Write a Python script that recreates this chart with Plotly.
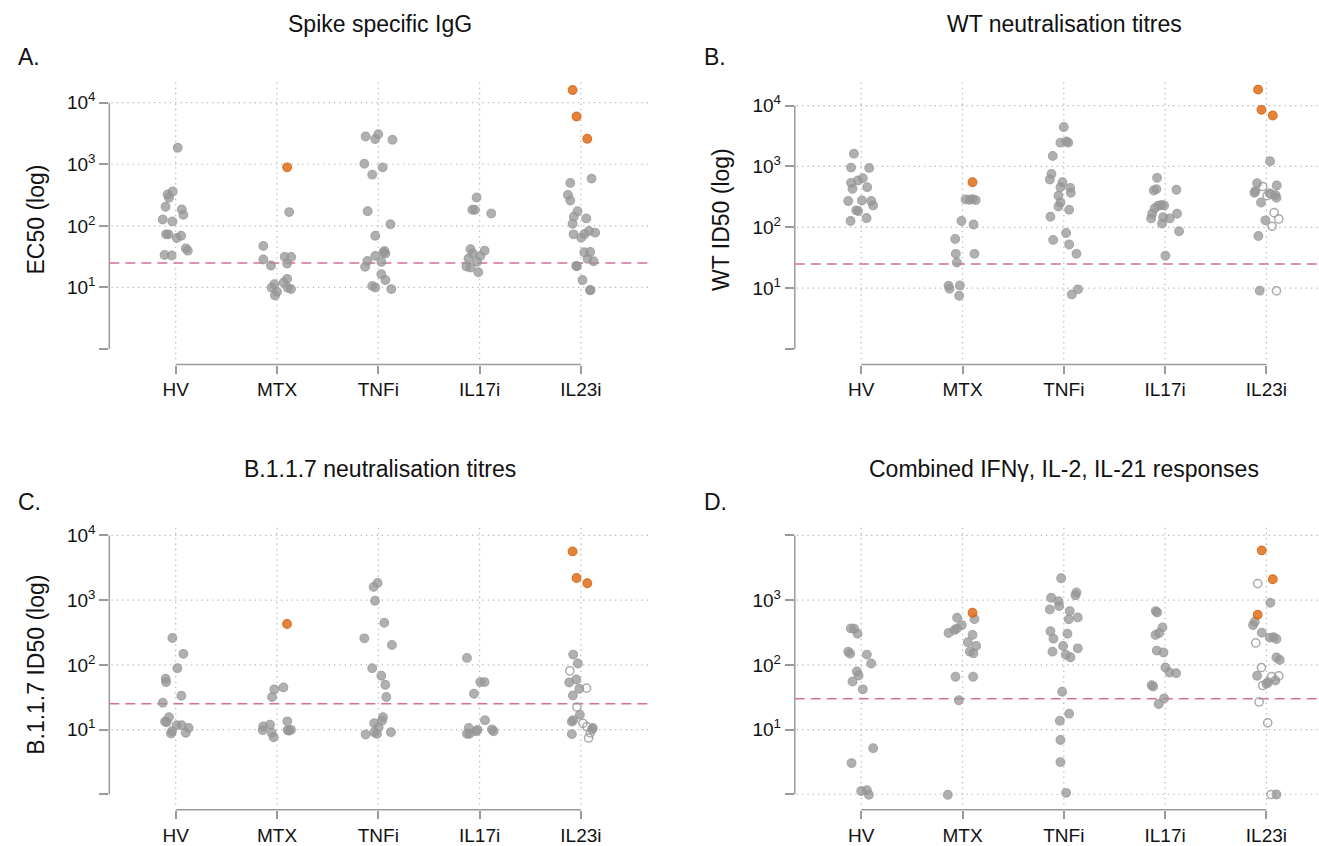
import plotly.graph_objects as go

categories = ["HV", "MTX", "TNFi", "IL17i", "IL23i"]
titles = ["Spike specific IgG", "WT neutralisation titres",
          "B.1.1.7 neutralisation titres", "Combined IFN\u03b3, IL-2, IL-21 responses"]
letters = ["A.", "B.", "C.", "D."]
ytitles = ["EC50 (log)", "WT ID50 (log)", "B.1.1.7 ID50 (log)", ""]
thresholds = [25, 25, 25, 30]

# ---------------- Panel A: Spike specific IgG (EC50) ----------------
a_hv = [1853, 360, 322, 285, 204, 185, 151, 127, 118, 72.8, 72.8, 63.5, 69, 43, 39.6, 33.7, 33]
a_hv_dx = [0.02, -0.03, -0.08, -0.066, -0.1, 0.06, 0.076, -0.128, -0.033, -0.095, -0.072, 0.01, 0.053, 0.10, 0.12, -0.11, -0.04]
a_mtx = [167, 47.2, 28.4, 22.7, 31.4, 31.2, 24.4, 13.8, 12, 11.3, 9.9, 8.5, 7.4, 9.9, 9.4]
a_mtx_dx = [0.12, -0.135, -0.135, -0.06, 0.076, 0.14, 0.1, 0.1, 0.066, -0.026, -0.053, 0, -0.02, 0.105, 0.138]
a_tnf = [2825, 2560, 3077, 2494, 1021, 891, 678, 173, 106, 69, 39, 36.8, 35.5, 32.5, 27, 26, 21.6, 16.4, 13.2, 10.6, 10, 9.4]
a_tnf_dx = [-0.125, -0.03, 0.0, 0.14, -0.138, 0.043, -0.06, -0.105, 0.12, -0.03, 0.06, 0.05, 0.07, -0.03, -0.108, 0.03, -0.13, 0.03, 0.07, -0.06, -0.03, 0.128]
a_il17 = [288, 182, 182, 159, 41.7, 39.6, 35.5, 32.5, 29.5, 26, 21.9, 21, 17.7]
a_il17_dx = [-0.03, -0.072, -0.046, 0.115, -0.09, 0.05, -0.066, 0.007, -0.11, -0.026, -0.13, -0.09, -0.013]
a_il23 = [585, 498, 318, 258, 173, 132, 141, 108, 72.8, 82.4, 77.5, 73.6, 64.3, 37.2, 37.6, 29.1, 26.7, 22.4, 22.0, 13.2, 9.06, 9.0]
a_il23_dx = [0.105, -0.105, -0.128, -0.105, -0.033, 0.053, -0.07, -0.082, -0.072, 0.079, 0.141, 0.036, 0.003, 0.033, 0.092, 0.066, 0.125, -0.046, -0.04, 0.016, 0.095, 0.09]
a_orange_cat = [2, 5, 5, 5]
a_orange_val = [891, 16000, 5940, 2588]
a_orange_dx = [0.1, -0.082, -0.043, 0.063]
a_open_cat = []
a_open_val = []
a_open_dx = []

# ---------------- Panel B: WT neutralisation (ID50) ----------------
b_hv = [1622, 957, 946, 641, 586, 537, 456, 428, 270, 276, 270, 229, 190, 185, 142, 127]
b_hv_dx = [-0.072, -0.1, 0.079, 0.016, -0.033, -0.1, 0.059, -0.086, -0.128, 0.007, 0.099, 0.118, -0.049, -0.03, 0.053, -0.105]
b_mtx = [287, 283, 290, 280, 127, 111, 64.4, 36.6, 36.6, 26.4, 11, 9.8, 11.1, 7.5]
b_mtx_dx = [0.03, 0.07, 0.1, 0.13, -0.01, 0.109, -0.072, -0.066, 0.118, -0.056, -0.138, -0.128, -0.026, -0.033]
b_tnf = [4430, 2455, 2577, 2455, 1485, 754, 609, 551, 456, 445, 369, 330, 256, 220, 194, 149, 80.8, 62.1, 52.1, 36.6, 9.57, 7.9]
b_tnf_dx = [0, -0.033, 0.026, 0.043, -0.109, -0.122, -0.138, -0.013, -0.033, 0.063, 0.069, -0.053, -0.033, -0.053, 0.053, -0.132, 0.023, -0.105, 0.053, 0.125, 0.141, 0.079]
b_il17 = [649, 403, 424, 413, 226, 232, 229, 205, 167, 140, 146, 140, 167, 115, 86, 34]
b_il17_dx = [-0.079, -0.112, -0.086, 0.112, -0.069, -0.036, -0.01, -0.102, -0.128, -0.138, -0.02, 0.046, 0.118, -0.03, 0.138, 0.003]
b_il23 = [1214, 531, 486, 393, 369, 364, 338, 306, 256, 130, 72, 9.1]
b_il23_dx = [0.036, -0.092, 0.102, -0.109, -0.118, 0.03, 0.089, 0.099, -0.053, -0.01, -0.079, -0.066]
b_orange_cat = [2, 5, 5, 5]
b_orange_val = [551, 18270, 8490, 6870]
b_orange_dx = [0.099, -0.082, -0.049, 0.063]
b_open_cat = [5, 5, 5, 5, 5, 5, 5]
b_open_val = [468, 331, 347, 174, 137, 104, 9.05]
b_open_dx = [-0.036, 0.007, 0.046, 0.076, 0.122, 0.056, 0.099]

# ---------------- Panel C: B.1.1.7 neutralisation (ID50) ----------------
c_hv = [260, 148, 88.9, 60.9, 54.1, 33.3, 26, 15.5, 13.3, 13, 11.7, 11.7, 10.6, 9.4, 8.7, 8.9]
c_hv_dx = [-0.033, 0.076, 0.016, -0.099, -0.095, 0.056, -0.128, -0.066, -0.105, -0.089, 0.01, 0.059, 0.128, -0.036, -0.046, 0.099]
c_mtx = [44.8, 41.8, 31.8, 13.4, 11.2, 11.9, 9.8, 8.9, 7.6, 9.8, 9.9, 9.6]
c_mtx_dx = [0.063, -0.026, -0.049, 0.102, -0.135, -0.069, -0.141, -0.053, -0.033, 0.105, 0.138, 0.118]
c_tnf = [1849, 1603, 977, 448, 203, 257, 89, 67.8, 49.2, 31.8, 15.5, 13.7, 12.5, 10.9, 8.6, 9.1, 8.4, 9.1]
c_tnf_dx = [-0.007, -0.046, -0.033, 0.059, 0.135, -0.138, -0.06, 0.03, 0.069, 0.079, 0.046, 0.036, -0.04, 0.003, -0.013, 0.125, -0.125, -0.04]
c_il17 = [128, 54.1, 54.1, 35.8, 13.9, 10.6, 8.6, 8.6, 9.4, 9.9, 10, 9.4]
c_il17_dx = [-0.125, 0.007, 0.049, -0.056, 0.053, -0.108, -0.125, -0.099, -0.033, -0.02, 0.122, 0.138]
c_il23 = [144, 105, 59.4, 53.4, 42.7, 33.7, 17, 13.3, 14, 10.6, 10, 8.5]
c_il23_dx = [-0.076, -0.03, -0.046, -0.115, -0.016, -0.079, -0.01, -0.089, -0.076, 0.118, 0.109, -0.089]
c_orange_cat = [2, 5, 5, 5]
c_orange_val = [428, 5675, 2206, 1827]
c_orange_dx = [0.099, -0.082, -0.043, 0.063]
c_open_cat = [5, 5, 5, 5, 5, 5, 5]
c_open_val = [81, 43.7, 22.3, 12.5, 11.1, 8.9, 7.4]
c_open_dx = [-0.109, 0.056, -0.039, 0.02, 0.059, 0.092, 0.076]

# ---------------- Panel D: combined T cell responses ----------------
d_hv = [366, 362, 303, 160, 149, 144, 105, 78.9, 68.5, 55.4, 41.8, 5.16, 3.03, 1.12, 1.15, 0.98]
d_hv_dx = [-0.102, -0.069, -0.036, -0.128, -0.109, 0.056, 0.099, -0.043, -0.026, -0.086, 0.016, 0.118, -0.095, 0, 0.056, 0.076]
d_mtx = [510, 535, 412, 366, 345, 311, 290, 223, 196, 160, 151, 65.4, 65.4, 28.3, 0.98]
d_mtx_dx = [0.118, -0.053, -0.007, -0.056, -0.079, -0.138, 0.099, 0.053, 0.135, 0.072, 0.108, -0.069, 0.105, -0.036, -0.145]
d_tnf = [2180, 1312, 1194, 1087, 966, 809, 718, 678, 505, 541, 330, 254, 303, 160, 196, 143, 131, 180, 38.4, 17.6, 13.7, 6.9, 3.14, 1.05]
d_tnf_dx = [-0.026, 0.125, 0.115, -0.125, -0.053, -0.046, -0.138, 0.059, 0.049, 0.138, -0.132, -0.102, 0.036, -0.112, -0.007, 0.02, 0.066, 0.138, -0.016, 0.053, -0.039, -0.033, -0.033, 0.023]
d_il17 = [678, 645, 379, 311, 290, 166, 155, 91, 76.2, 74.5, 48.6, 46.4, 30.3, 24.8]
d_il17_dx = [-0.092, -0.079, -0.026, -0.059, -0.095, -0.082, -0.016, 0.003, 0.043, 0.109, -0.132, -0.118, -0.01, -0.063]
d_il23 = [910, 464, 412, 314, 264, 267, 251, 130, 119, 67.8, 57.4, 51, 54, 0.99]
d_il23_dx = [0.039, -0.115, -0.132, -0.046, 0.033, 0.072, 0.099, 0.099, 0.132, -0.092, 0.089, 0.0, 0.016, 0.099]
d_orange_cat = [2, 5, 5, 5]
d_orange_val = [638, 5876, 2104, 594]
d_orange_dx = [0.099, -0.046, 0.063, -0.086]
d_open_cat = [5, 5, 5, 5, 5, 5, 5, 5, 5]
d_open_val = [1804, 218, 91, 66, 67.5, 48, 26.7, 12.7, 0.99]
d_open_dx = [-0.086, -0.105, -0.049, 0.053, 0.122, -0.036, -0.072, 0.013, 0.046]

panel_groups = [
    [(a_hv, a_hv_dx), (a_mtx, a_mtx_dx), (a_tnf, a_tnf_dx), (a_il17, a_il17_dx), (a_il23, a_il23_dx)],
    [(b_hv, b_hv_dx), (b_mtx, b_mtx_dx), (b_tnf, b_tnf_dx), (b_il17, b_il17_dx), (b_il23, b_il23_dx)],
    [(c_hv, c_hv_dx), (c_mtx, c_mtx_dx), (c_tnf, c_tnf_dx), (c_il17, c_il17_dx), (c_il23, c_il23_dx)],
    [(d_hv, d_hv_dx), (d_mtx, d_mtx_dx), (d_tnf, d_tnf_dx), (d_il17, d_il17_dx), (d_il23, d_il23_dx)],
]
panel_orange = [(a_orange_cat, a_orange_val, a_orange_dx), (b_orange_cat, b_orange_val, b_orange_dx),
                (c_orange_cat, c_orange_val, c_orange_dx), (d_orange_cat, d_orange_val, d_orange_dx)]
panel_open = [(a_open_cat, a_open_val, a_open_dx), (b_open_cat, b_open_val, b_open_dx),
              (c_open_cat, c_open_val, c_open_dx), (d_open_cat, d_open_val, d_open_dx)]

# ---------------- layout geometry (pixels) ----------------
W, H = 1319, 846
CAT_STEP = 101.3
geo = [
    dict(xl=109.3, xr=650.0, x1=175.7, yt=77.0, yb=358.0, y0=347.7, dec=61.9, xax=363.3),
    dict(xl=794.8, xr=1319.0, x1=861.2, yt=77.0, yb=358.0, y0=347.7, dec=61.17, xax=363.3),
    dict(xl=109.3, xr=650.0, x1=175.7, yt=524.6, yb=805.4, y0=795.0, dec=65.0, xax=810.7),
    dict(xl=794.8, xr=1319.0, x1=861.2, yt=524.6, yb=805.4, y0=795.0, dec=65.0, xax=810.7),
]
title_px = [(379.5, 20.7), (1064.0, 20.7), (379.5, 468.3), (1064.0, 468.3)]
letter_px = [(16.0, 54.0), (701.5, 54.0), (16.0, 501.6), (701.5, 501.6)]
ytitle_px = [(36.0, 217.5), (721.5, 217.5), (36.0, 665.0), (721.5, 665.0)]


def px(x):
    return x / W


def py(y):
    return 1 - y / H


FONT = "Liberation Sans, Arial, Helvetica, sans-serif"
GRAY_FILL = "rgba(150,150,150,0.75)"
GRAY_LINE = "rgba(150,150,150,0.75)"
OR_FILL = "rgba(222,100,10,0.80)"
OR_LINE = "rgba(210,95,10,0.80)"
AXIS_COL = "#9a9a9a"
GRID_COL = "#b5b5b5"
THR_COL = "#d4709f"
MSIZE = 8.8

fig = go.Figure()
shapes = []
annotations = []
layout_axes = {}

for p in range(4):
    g = geo[p]
    s = "" if p == 0 else str(p + 1)
    xname, yname = "x" + s, "y" + s
    # traces: filled grey points
    for ci, (vals, dxs) in enumerate(panel_groups[p]):
        fig.add_trace(go.Scatter(
            x=[ci + 1 + d for d in dxs], y=vals, mode="markers",
            xaxis=xname, yaxis=yname, showlegend=False, hoverinfo="skip", cliponaxis=False,
            marker=dict(size=MSIZE, color=GRAY_FILL, line=dict(color=GRAY_LINE, width=1.1))))
    oc, ov, od = panel_open[p]
    if ov:
        fig.add_trace(go.Scatter(
            x=[c + d for c, d in zip(oc, od)], y=ov, mode="markers",
            xaxis=xname, yaxis=yname, showlegend=False, hoverinfo="skip", cliponaxis=False,
            marker=dict(size=MSIZE - 0.6, color="rgba(255,255,255,0)", line=dict(color="rgba(150,150,150,0.8)", width=1.5))))
    rc, rv, rd = panel_orange[p]
    fig.add_trace(go.Scatter(
        x=[c + d for c, d in zip(rc, rd)], y=rv, mode="markers",
        xaxis=xname, yaxis=yname, showlegend=False, hoverinfo="skip", cliponaxis=False,
        marker=dict(size=MSIZE, color=OR_FILL, line=dict(color=OR_LINE, width=1.1))))

    # axes
    x_lo = 1 - (g["x1"] - g["xl"]) / CAT_STEP
    x_hi = 5 + (g["xr"] - (g["x1"] + 4 * CAT_STEP)) / CAT_STEP
    y_lo = -(g["yb"] - g["y0"]) / g["dec"]
    y_hi = (g["y0"] - g["yt"]) / g["dec"]
    layout_axes["xaxis" + s] = dict(
        domain=[px(g["xl"]), px(g["xr"])], range=[x_lo, x_hi], anchor="free", position=py(g["xax"]),
        tickmode="array", tickvals=[1, 2, 3, 4, 5], ticktext=categories,
        ticks="outside", ticklen=8, tickwidth=1.5, tickcolor=AXIS_COL,
        showline=False, showgrid=False, zeroline=False, fixedrange=True,
        tickfont=dict(family=FONT, size=19, color="#111111"))
    ylabels = ["", "10<sup>1</sup>", "10<sup>2</sup>", "10<sup>3</sup>", "10<sup>4</sup>"]
    if p == 3:
        ylabels[4] = ""
    layout_axes["yaxis" + s] = dict(
        domain=[py(g["yb"]), py(g["yt"])], type="log", range=[y_lo, y_hi], anchor=xname,
        tickmode="array", tickvals=[1, 10, 100, 1000, 10000], ticktext=ylabels,
        ticks="outside", ticklen=9, tickwidth=1.5, tickcolor=AXIS_COL,
        showline=False, showgrid=False, zeroline=False, fixedrange=True,
        tickfont=dict(family=FONT, size=19, color="#111111"))

    # axis lines (R-style: only spanning the tick range)
    shapes.append(dict(type="line", xref=xname + " domain", yref=yname, x0=0, x1=0, y0=1, y1=10000,
                       line=dict(color=AXIS_COL, width=1.5), layer="above"))
    shapes.append(dict(type="line", xref=xname, yref="paper", x0=1, x1=5, y0=py(g["xax"]), y1=py(g["xax"]),
                       line=dict(color=AXIS_COL, width=1.5), layer="above"))
    # dotted grid
    hgrid = [10, 100, 1000, 10000] if p != 3 else [1, 10, 100, 1000, 10000]
    for v in hgrid:
        shapes.append(dict(type="line", xref=xname + " domain", yref=yname, x0=0.004, x1=1, y0=v, y1=v,
                           line=dict(color=GRID_COL, width=1.2, dash="1.3px,4px"), layer="below"))
    for k in range(1, 6):
        shapes.append(dict(type="line", xref=xname, yref=yname + " domain", x0=k, x1=k, y0=0.0, y1=1.0,
                           line=dict(color=GRID_COL, width=1.2, dash="1.3px,4px"), layer="below"))
    # threshold
    shapes.append(dict(type="line", xref=xname + " domain", yref=yname, x0=0, x1=1,
                       y0=thresholds[p], y1=thresholds[p],
                       line=dict(color=THR_COL, width=1.5, dash="10px,6px"), layer="below"))

    # texts
    tx, ty = title_px[p]
    annotations.append(dict(text=titles[p], x=px(tx), y=py(ty), xref="paper", yref="paper",
                            xanchor="center", yanchor="middle", showarrow=False,
                            font=dict(family=FONT, size=23, color="#111111")))
    lx, ly = letter_px[p]
    annotations.append(dict(text=letters[p], x=px(lx), y=py(ly), xref="paper", yref="paper",
                            xanchor="left", yanchor="middle", showarrow=False,
                            font=dict(family=FONT, size=23, color="#111111")))
    if ytitles[p]:
        yx, yy = ytitle_px[p]
        annotations.append(dict(text=ytitles[p], x=px(yx), y=py(yy), xref="paper", yref="paper",
                                xanchor="center", yanchor="middle", showarrow=False, textangle=-90,
                                font=dict(family=FONT, size=23, color="#111111")))

fig.update_layout(
    width=W, height=H, margin=dict(l=0, r=0, t=0, b=0),
    paper_bgcolor="white", plot_bgcolor="white",
    shapes=shapes, annotations=annotations, showlegend=False,
    **layout_axes)

fig.write_html("out.html", config={"displayModeBar": False})
